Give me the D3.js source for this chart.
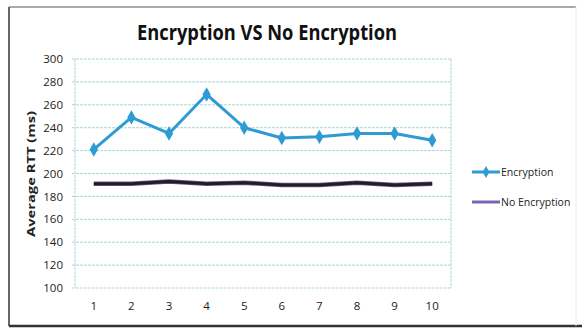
<!DOCTYPE html>
<html>
<head>
<meta charset="utf-8">
<script src="https://cdn.jsdelivr.net/npm/d3@7"></script>
<style>
  html, body { margin: 0; padding: 0; background: #fff; }
  svg { display: block; }
</style>
</head>
<body>
<svg id="chart" width="582" height="328"></svg>
<script>
// Average round-trip time per trial, with and without encryption
const runs = ["1", "2", "3", "4", "5", "6", "7", "8", "9", "10"];
const encryption = [221, 249, 235, 269, 240, 231, 232, 235, 235, 229];
const noEncryption = [191, 191, 193, 191, 192, 190, 190, 192, 190, 191];
const yTicks = [100, 120, 140, 160, 180, 200, 220, 240, 260, 280, 300];
const seriesNames = ["Encryption", "No Encryption"];

const svg = d3.select("#chart");
const plot = { left: 75, right: 451, top: 59, bottom: 288 };

const x = d3.scaleBand().domain(runs).range([plot.left, plot.right]);
const y = d3.scaleLinear().domain([100, 300]).range([plot.bottom, plot.top]);
const cx = d => x(d) + x.bandwidth() / 2;

// outer frame
svg.append("line").attr("x1", 9).attr("x2", 9).attr("y1", 7).attr("y2", 326)
  .attr("stroke", "#333").attr("stroke-width", 1.5);
svg.append("line").attr("x1", 9).attr("x2", 576).attr("y1", 7).attr("y2", 7)
  .attr("stroke", "#555").attr("stroke-width", 1.2);
svg.append("line").attr("x1", 9).attr("x2", 582).attr("y1", 326).attr("y2", 326)
  .attr("stroke", "#333").attr("stroke-width", 2.5);
svg.append("line").attr("x1", 576).attr("x2", 576).attr("y1", 7).attr("y2", 326)
  .attr("stroke", "#e4eef0").attr("stroke-width", 1);

// title
svg.append("text")
  .attr("x", 267).attr("y", 40)
  .attr("text-anchor", "middle")
  .attr("font-family", "'Open Sans', sans-serif")
  .attr("font-weight", "bold")
  .attr("font-size", 22)
  .attr("textLength", 260)
  .attr("lengthAdjust", "spacingAndGlyphs")
  .attr("fill", "#111")
  .text("Encryption VS No Encryption");

// horizontal gridlines
svg.append("g").selectAll("line").data(yTicks).join("line")
  .attr("x1", plot.left - 3).attr("x2", plot.right)
  .attr("y1", d => y(d)).attr("y2", d => y(d))
  .attr("stroke", "#a9d6dd").attr("stroke-width", 1)
  .attr("stroke-dasharray", "3,1");

// plot area sides
svg.append("line").attr("x1", plot.left).attr("x2", plot.left)
  .attr("y1", plot.top).attr("y2", plot.bottom)
  .attr("stroke", "#a9d6dd").attr("stroke-dasharray", "3,1");
svg.append("line").attr("x1", plot.right).attr("x2", plot.right)
  .attr("y1", plot.top).attr("y2", plot.bottom)
  .attr("stroke", "#a9d6dd").attr("stroke-dasharray", "3,1");

// y axis labels
const yAxis = d3.axisLeft(y).tickValues(yTicks).tickSize(0).tickPadding(12);
const gy = svg.append("g").attr("transform", `translate(${plot.left},0)`).call(yAxis);
gy.select(".domain").remove();
gy.selectAll("text")
  .attr("font-family", "'Open Sans', sans-serif")
  .attr("font-size", 11.5)
  .style("fill", "#222");

// x axis labels
const xAxis = d3.axisBottom(x).tickSize(0).tickPadding(14);
const gx = svg.append("g").attr("transform", `translate(0,${plot.bottom})`).call(xAxis);
gx.select(".domain").remove();
gx.selectAll("text")
  .attr("font-family", "'Open Sans', sans-serif")
  .attr("font-size", 11.5)
  .style("fill", "#222");

// y axis title
svg.append("text")
  .attr("transform", "translate(35,174) rotate(-90)")
  .attr("text-anchor", "middle")
  .attr("font-family", "'Open Sans', sans-serif")
  .attr("font-weight", "bold")
  .attr("font-size", 11)
  .attr("textLength", 126)
  .attr("lengthAdjust", "spacingAndGlyphs")
  .attr("fill", "#222")
  .text("Average RTT (ms)");

const line = d3.line().x((d, i) => cx(runs[i])).y(d => y(d));

// no-encryption series
svg.append("path").datum(noEncryption)
  .attr("fill", "none")
  .attr("stroke", "#6a5a8a").attr("stroke-width", 4.5)
  .attr("stroke-linejoin", "round")
  .attr("d", line);
svg.append("path").datum(noEncryption)
  .attr("fill", "none")
  .attr("stroke", "#231c26").attr("stroke-width", 3)
  .attr("stroke-linejoin", "round")
  .attr("d", line);

// encryption series
const encColor = "#2f9bd3";
svg.append("path").datum(encryption)
  .attr("fill", "none")
  .attr("stroke", encColor).attr("stroke-width", 3)
  .attr("stroke-linejoin", "round")
  .attr("d", line);
const diamond = d3.symbol().type(d3.symbolDiamond).size(60);
svg.append("g").selectAll("path").data(encryption).join("path")
  .attr("transform", (d, i) => `translate(${cx(runs[i])},${y(d)})`)
  .attr("d", diamond)
  .attr("fill", encColor);

// legend
const legend = svg.append("g");
const legendRows = [
  { name: seriesNames[0], color: encColor, marker: true, yPos: 172 },
  { name: seriesNames[1], color: "#7a63b6", marker: false, yPos: 202 }
];
legendRows.forEach(r => {
  legend.append("line")
    .attr("x1", 472).attr("x2", 500)
    .attr("y1", r.yPos).attr("y2", r.yPos)
    .attr("stroke", r.color).attr("stroke-width", 3);
  if (r.marker) {
    legend.append("path")
      .attr("transform", `translate(486,${r.yPos})`)
      .attr("d", d3.symbol().type(d3.symbolDiamond).size(40))
      .attr("fill", r.color);
  }
  legend.append("text")
    .attr("x", 501).attr("y", r.yPos + 4)
    .attr("font-family", "'Open Sans', sans-serif")
    .attr("font-size", 10.5)
    .attr("fill", "#222")
    .text(r.name);
});
</script>
</body>
</html>
